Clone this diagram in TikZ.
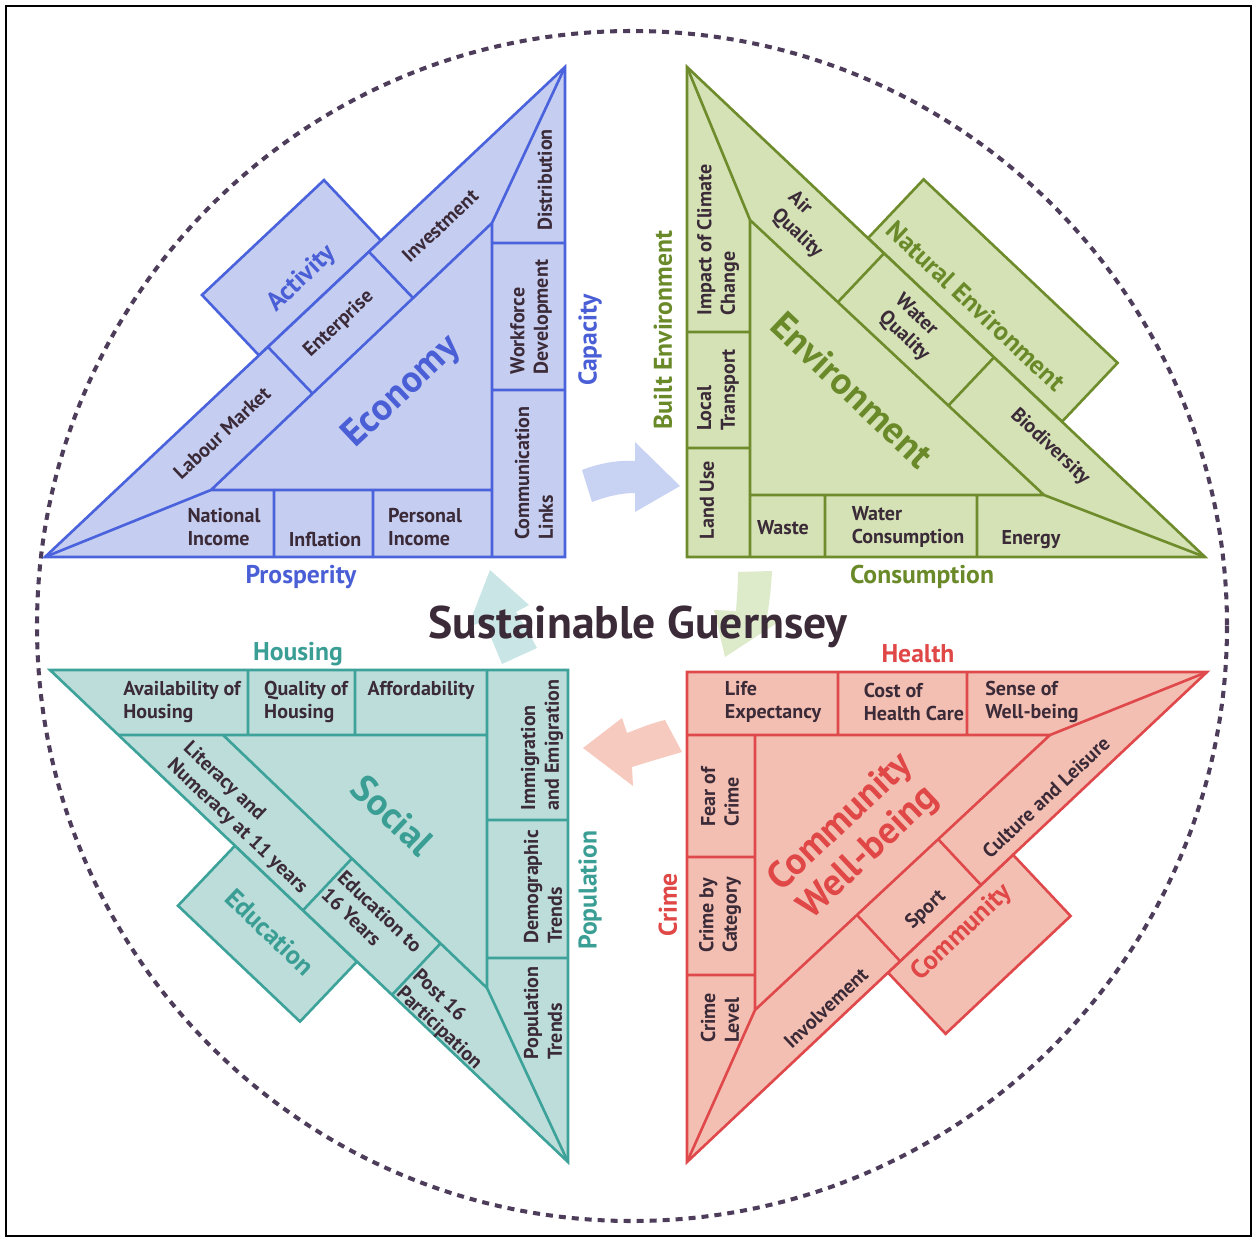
\documentclass[tikz,border=0pt]{standalone}
\usepackage{fontspec}
\setmainfont{PT Sans}
\usetikzlibrary{positioning, calc}
\definecolor{ink}{HTML}{3B2A37}
\definecolor{ringcol}{HTML}{4D3D5A}
\definecolor{ecoFill}{HTML}{C5CDF1}
\definecolor{ecoEdge}{HTML}{4A63DD}
\definecolor{ecoText}{HTML}{4A5FD6}
\definecolor{ecoPale}{HTML}{C8D2F2}
\definecolor{envFill}{HTML}{D4E2B6}
\definecolor{envEdge}{HTML}{6F8C2C}
\definecolor{envText}{HTML}{6A8A2A}
\definecolor{envPale}{HTML}{DDEBCA}
\definecolor{socFill}{HTML}{BCDDD9}
\definecolor{socEdge}{HTML}{3DA299}
\definecolor{socText}{HTML}{3A9E95}
\definecolor{socPale}{HTML}{C9E5E5}
\definecolor{comFill}{HTML}{F4BFB3}
\definecolor{comEdge}{HTML}{E0494B}
\definecolor{comText}{HTML}{E04747}
\definecolor{comPale}{HTML}{F7CABF}

\begin{document}
\begin{tikzpicture}[x=0.02cm, y=-0.02cm]
    \tikzstyle{edge} = [line width=1.5pt, line join=miter]
    \tikzstyle{cell} = [font=\bfseries\fontsize{11.4}{13.4}\selectfont, text=ink, align=left, inner sep=0pt]
    \tikzstyle{big} = [font=\bfseries\fontsize{21.5}{23.5}\selectfont, align=center, inner sep=0pt]
    \tikzstyle{boxhead} = [font=\bfseries\fontsize{15}{16}\selectfont, inner sep=0pt]
    \tikzstyle{side} = [font=\bfseries\fontsize{14.6}{15}\selectfont, inner sep=0pt]

    \useasboundingbox (0,0) rectangle (1258,1240);
    \draw[line width=1.1pt] (6,6) rectangle (1251,1236);
    \draw[ringcol, line width=2.3pt, dash pattern=on 4pt off 3.4pt] (632,626) circle (595);

    % cycle arrows
    \fill[ecoPale] (582,470) .. controls (600,463) and (618,460) .. (635,461) -- (635,442) -- (680,486) -- (635,512) -- (635,493) .. controls (620,493) and (605,497) .. (592,502) -- cycle;
    \fill[envPale] (738,572) -- (772,571) .. controls (771,590) and (769,605) .. (767,617) -- (780,621) -- (725,657) -- (714,610) -- (736,611) .. controls (737,597) and (738,585) .. (738,572) -- cycle;
    \fill[comPale] (665,720) -- (682,752) .. controls (665,757) and (648,762) .. (632,767) -- (633,786) -- (583,748) -- (622,718) -- (627,733) .. controls (640,728) and (652,723) .. (665,720) -- cycle;
    \fill[socPale] (490,570) -- (529,605) -- (516,612) .. controls (524,625) and (531,637) .. (537,648) -- (502,664) .. controls (497,652) and (491,638) .. (485,621) -- (468,627) -- cycle;

    % Economy
    \coordinate (eA) at (45,557);
    \coordinate (eB) at (565,67);
    \coordinate (eC) at (565,557);
    \coordinate (eD) at (492,223);
    \coordinate (eE) at (211,490);
    \draw[edge, draw=ecoEdge, fill=ecoFill] (259,355.4) -- (381,240.5) -- (324,180.1) -- (202,295) -- cycle;
    \draw[edge, draw=ecoEdge, fill=ecoFill] (eA) -- (eB) -- (eC) -- cycle;
    \draw[edge, draw=ecoEdge] (eA) -- (eE) -- (492,490) (eB) -- (eD) -- (492,557) (eE) -- (eD)
        (274,490) -- (274,557) (373,490) -- (373,557)
        (492,243) -- (565,243) (492,390) -- (565,390)
        (268,347) -- (313,394) (369,251.8) -- (414,299);

    \node[cell, rotate=43.3] (labour) at (222,433) {Labour Market};
    \node[cell, rotate=43.3] (enterprise) at (339,324) {Enterprise};
    \node[cell, rotate=43.3] (investment) at (440,226) {Investment};
    \node[cell] (natinc) at (224,527) {National\\Income};
    \node[cell] (inflation) at (325,539) {Inflation};
    \node[cell] (persinc) at (425,527) {Personal\\Income};
    \node[cell, rotate=90] (distrib) at (545,180) {Distribution};
    \node[cell, rotate=90] (workforce) at (531,317) {Workforce\\Development};
    \node[cell, rotate=90] (comms) at (534,473) {Communication\\Links};
    \node[boxhead, text=ecoText, rotate=43.3] (activity) at (302,279) {Activity};
    \node[big, text=ecoText, rotate=43.3] (economy) at (402,392) {Economy};
    \node[side, text=ecoText] (prosperity) at (301,577) {Prosperity};
    \node[side, text=ecoText, rotate=90] (capacity) at (590,340) {Capacity};

    % Environment
    \coordinate (nF) at (687,67);
    \coordinate (nG) at (687,557);
    \coordinate (nH) at (1205,557);
    \coordinate (nI) at (750,220);
    \coordinate (nJ) at (1044,495);
    \draw[edge, draw=envEdge, fill=envFill] (868,238.2) -- (1062,421.7) -- (1117.6,362.9) -- (923.6,179.4) -- cycle;
    \draw[edge, draw=envEdge, fill=envFill] (nF) -- (nG) -- (nH) -- cycle;
    \draw[edge, draw=envEdge] (nF) -- (nI) -- (750,557) (nH) -- (nJ) -- (750,495) (nI) -- (nJ)
        (687,332) -- (750,332) (687,448) -- (750,448)
        (825,495) -- (825,557) (977,495) -- (977,557)
        (884,253.4) -- (838,302) (994,357.4) -- (948,406);

    \node[cell, rotate=-43.4] (airq) at (805,225) {Air\\Quality};
    \node[cell, rotate=-43.4] (waterq) at (912,328) {Water\\Quality};
    \node[cell, rotate=-43.4] (biodiv) at (1050,447) {Biodiversity};
    \node[boxhead, text=envText, rotate=-43.4] (natenv) at (976,306) {Natural Environment};
    \node[big, text=envText, rotate=-43.4] (environment) at (852,390) {Environment};
    \node[cell, rotate=90] (climate) at (718,240) {Impact of Climate\\Change};
    \node[cell, rotate=90] (transport) at (718,390) {Local\\Transport};
    \node[cell, rotate=90] (landuse) at (707,500) {Land Use};
    \node[cell] (waste) at (783,528) {Waste};
    \node[cell] (watercons) at (908,527) {Water\\Consumption};
    \node[cell] (energy) at (1031,540) {Energy};
    \node[side, text=envText, rotate=90] (built) at (663,330) {Built Environment};
    \node[side, text=envText] (consumption) at (922,577) {Consumption};

    % Social
    \coordinate (sK) at (50,670);
    \coordinate (sL) at (568,670);
    \coordinate (sM) at (568,1162);
    \coordinate (sN) at (118.4,735);
    \coordinate (sP) at (223,735);
    \coordinate (sQ) at (487,988);
    \draw[edge, draw=socEdge, fill=socFill] (235,845.7) -- (357,961.6) -- (300,1021.6) -- (178,905.7) -- cycle;
    \draw[edge, draw=socEdge, fill=socFill] (sK) -- (sL) -- (sM) -- cycle;
    \draw[edge, draw=socEdge] (sN) -- (487,735) (487,670) -- (sQ) -- (sM) (sP) -- (sQ)
        (248,670) -- (248,735) (355,670) -- (355,735)
        (487,820) -- (568,820) (487,958) -- (568,958)
        (303,910.3) -- (351,859.5) (392,994.9) -- (440,944);

    \node[cell] (avail) at (182,702) {Availability of\\Housing};
    \node[cell] (qualhouse) at (306,702) {Quality of\\Housing};
    \node[cell] (afford) at (421,690) {Affordability};
    \node[cell, rotate=90] (migration) at (542,745) {Immigration\\and Emigration};
    \node[cell, rotate=90] (demog) at (543,887) {Demographic\\Trends};
    \node[cell, rotate=90] (poptrend) at (543,1013) {Population\\Trends};
    \node[big, text=socText, rotate=-43.5] (social) at (393,815) {Social};
    \node[cell, rotate=-43.5] (literacy) at (245,818) {Literacy and\\Numeracy at 11 years};
    \node[cell, rotate=-43.5] (edu16) at (372,920) {Education to\\16 Years};
    \node[cell, rotate=-43.5] (post16) at (447,1020) {Post 16\\Participation};
    \node[boxhead, text=socText, rotate=-43.5] (education) at (270,932) {Education};
    \node[side, text=socText] (housing) at (298,654) {Housing};
    \node[side, text=socText, rotate=90] (population) at (590,890) {Population};

    % Community Well-being
    \coordinate (cR) at (687,672);
    \coordinate (cS) at (1207,672);
    \coordinate (cT) at (687,1162);
    \coordinate (cU) at (1050,735);
    \coordinate (cV) at (755,1010);
    \draw[edge, draw=comEdge, fill=comFill] (888,972.6) -- (1013,854.8) -- (1070.6,916) -- (945.6,1033.8) -- cycle;
    \draw[edge, draw=comEdge, fill=comFill] (cR) -- (cS) -- (cT) -- cycle;
    \draw[edge, draw=comEdge] (687,735) -- (cU) -- (cS) (755,735) -- (cV) -- (cT) (cU) -- (cV)
        (838,672) -- (838,735) (967,672) -- (967,735)
        (687,857) -- (755,857) (687,975) -- (755,975)
        (857,915) -- (900,961) (938,839) -- (981,885);

    \node[cell] (lifeexp) at (773,702) {Life\\Expectancy};
    \node[cell] (healthcost) at (914,702) {Cost of\\Health Care};
    \node[cell] (wellsense) at (1032,702) {Sense of\\Well-being};
    \node[cell, rotate=90] (fear) at (720,797) {Fear of\\Crime};
    \node[cell, rotate=90] (crimecat) at (720,915) {Crime by\\Category};
    \node[cell, rotate=90] (crimelvl) at (720,1018) {Crime\\Level};
    \node[big, text=comText, rotate=43.3] (wellbeing) at (855,838) {Community\\Well-being};
    \node[cell, rotate=43.3] (culture) at (1046,797) {Culture and Leisure};
    \node[cell, rotate=43.3] (sport) at (926,910) {Sport};
    \node[cell, rotate=43.3] (involve) at (826,1008) {Involvement};
    \node[boxhead, text=comText, rotate=43.3] (community) at (962,933) {Community};
    \node[side, text=comText] (health) at (918,654) {Health};
    \node[side, text=comText, rotate=90] (crime) at (668,905) {Crime};

    \node[font=\bfseries\fontsize{26}{27}\selectfont, text=ink, inner sep=0pt] (guernsey) at (638,627) {Sustainable Guernsey};
\end{tikzpicture}
\end{document}
